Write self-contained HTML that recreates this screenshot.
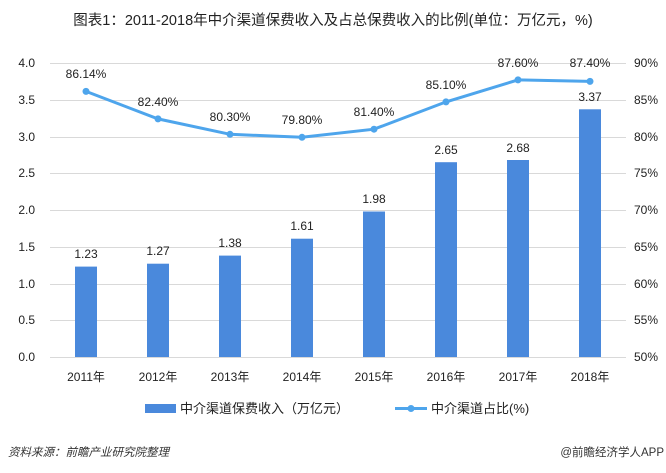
<!DOCTYPE html><html><head><meta charset="utf-8"><style>body{margin:0;background:#fff}svg{display:block;font-family:"Liberation Sans","Noto Sans CJK SC",sans-serif}</style></head><body>
<svg width="666" height="473" viewBox="0 0 666 473" xmlns="http://www.w3.org/2000/svg">
<text x="333" y="25" font-size="14.5" text-anchor="middle" fill="#222">图表1：2011-2018年中介渠道保费收入及占总保费收入的比例(单位：万亿元，%)</text>
<g stroke="#d9d9d9" stroke-width="1">
<line x1="50" x2="626" y1="63.5" y2="63.5"/><line x1="50" x2="626" y1="100.5" y2="100.5"/><line x1="50" x2="626" y1="137.5" y2="137.5"/><line x1="50" x2="626" y1="173.5" y2="173.5"/><line x1="50" x2="626" y1="210.5" y2="210.5"/><line x1="50" x2="626" y1="247.5" y2="247.5"/><line x1="50" x2="626" y1="284.5" y2="284.5"/><line x1="50" x2="626" y1="320.5" y2="320.5"/><line x1="50" x2="626" y1="357.5" y2="357.5"/>
</g>
<g font-size="12" fill="#222" text-anchor="end">
<text x="35" y="67">4.0</text><text x="35" y="104">3.5</text><text x="35" y="141">3.0</text><text x="35" y="177">2.5</text><text x="35" y="214">2.0</text><text x="35" y="251">1.5</text><text x="35" y="288">1.0</text><text x="35" y="324">0.5</text><text x="35" y="361">0.0</text>
</g>
<g font-size="12" fill="#222" text-anchor="start">
<text x="634" y="67">90%</text><text x="634" y="104">85%</text><text x="634" y="141">80%</text><text x="634" y="177">75%</text><text x="634" y="214">70%</text><text x="634" y="251">65%</text><text x="634" y="288">60%</text><text x="634" y="324">55%</text><text x="634" y="361">50%</text>
</g>
<g fill="#4a89dc">
<rect x="75" y="266.6" width="22" height="90.4"/><rect x="147" y="263.7" width="22" height="93.3"/><rect x="219" y="255.6" width="22" height="101.4"/><rect x="291" y="238.7" width="22" height="118.3"/><rect x="363" y="211.5" width="22" height="145.5"/><rect x="435" y="162.2" width="22" height="194.8"/><rect x="507" y="160" width="22" height="197"/><rect x="579" y="109.3" width="22" height="247.7"/>
</g>
<g font-size="12" fill="#222" text-anchor="middle">
<text x="86" y="258">1.23</text><text x="158" y="255">1.27</text><text x="230" y="247">1.38</text><text x="302" y="230">1.61</text><text x="374" y="203">1.98</text><text x="446" y="154">2.65</text><text x="518" y="152">2.68</text><text x="590" y="101">3.37</text>
</g>
<polyline fill="none" stroke="#4ea5ec" stroke-width="3" points="86,91.4 158,118.9 230,134.3 302,137.3 374,129.2 446,101.9 518,79.9 590,81.4"/>
<g fill="#4ea5ec"><circle cx="86" cy="91.4" r="3.5"/><circle cx="158" cy="118.9" r="3.5"/><circle cx="230" cy="134.3" r="3.5"/><circle cx="302" cy="137.3" r="3.5"/><circle cx="374" cy="129.2" r="3.5"/><circle cx="446" cy="101.9" r="3.5"/><circle cx="518" cy="79.9" r="3.5"/><circle cx="590" cy="81.4" r="3.5"/></g>
<g font-size="12" fill="#222" text-anchor="middle">
<text x="86" y="78">86.14%</text><text x="158" y="106">82.40%</text><text x="230" y="121">80.30%</text><text x="302" y="124">79.80%</text><text x="374" y="116">81.40%</text><text x="446" y="89">85.10%</text><text x="518" y="67">87.60%</text><text x="590" y="67">87.40%</text>
</g>
<g font-size="12" fill="#222" text-anchor="middle">
<text x="86" y="381">2011年</text><text x="158" y="381">2012年</text><text x="230" y="381">2013年</text><text x="302" y="381">2014年</text><text x="374" y="381">2015年</text><text x="446" y="381">2016年</text><text x="518" y="381">2017年</text><text x="590" y="381">2018年</text>
</g>
<rect x="145" y="404" width="31" height="9" fill="#4a89dc"/>
<text x="180" y="413" font-size="13" fill="#222">中介渠道保费收入（万亿元）</text>
<line x1="395" x2="427" y1="408.5" y2="408.5" stroke="#4ea5ec" stroke-width="3"/><circle cx="411" cy="408.5" r="3.5" fill="#4ea5ec"/>
<text x="431" y="413" font-size="13" fill="#222">中介渠道占比(%)</text>
<text x="8" y="456" font-size="11.5" font-style="italic" fill="#333">资料来源：前瞻产业研究院整理</text>
<text x="664" y="456" font-size="11.5" fill="#333" text-anchor="end">@前瞻经济学人APP</text>
</svg></body></html>
